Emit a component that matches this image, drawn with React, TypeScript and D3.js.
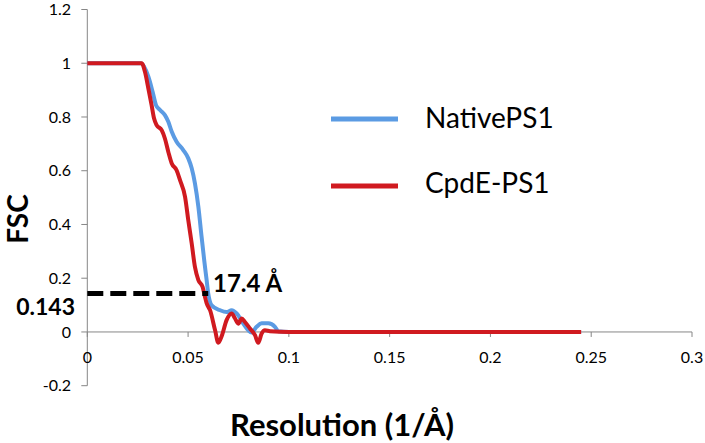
import React from "react";
import * as d3 from "d3";

const nativeRes = [0, 0.01, 0.02, 0.0266, 0.0303, 0.0324, 0.0341, 0.0361, 0.0385, 0.0402, 0.0419, 0.0443, 0.0476, 0.0501, 0.0518, 0.0534, 0.0551, 0.0567, 0.058, 0.0592, 0.06, 0.0617, 0.0658, 0.0691, 0.0716, 0.0741, 0.0774, 0.0799, 0.0815, 0.084, 0.0865, 0.0898, 0.0931, 0.0947, 0.1, 0.15, 0.2, 0.245];
const nativeFsc = [1, 1, 1, 1, 0.95, 0.894, 0.844, 0.826, 0.807, 0.782, 0.745, 0.708, 0.677, 0.646, 0.609, 0.553, 0.466, 0.354, 0.267, 0.193, 0.143, 0.099, 0.081, 0.074, 0.081, 0.069, 0.031, 0.006, -0.002, 0.019, 0.032, 0.032, 0.019, 0.003, 0, 0, 0, 0];

const cpdeRes = [0, 0.01, 0.02, 0.027, 0.0286, 0.0303, 0.0319, 0.0331, 0.0344, 0.0369, 0.0385, 0.0402, 0.0419, 0.0443, 0.046, 0.0485, 0.0501, 0.0518, 0.0534, 0.0551, 0.0572, 0.0584, 0.0592, 0.0609, 0.0634, 0.065, 0.0667, 0.0691, 0.0716, 0.0733, 0.0749, 0.0766, 0.0782, 0.0807, 0.0832, 0.0848, 0.0865, 0.0881, 0.0906, 0.1, 0.15, 0.2, 0.245];
const cpdeFsc = [1, 1, 1, 1, 0.968, 0.906, 0.844, 0.795, 0.77, 0.751, 0.72, 0.67, 0.627, 0.602, 0.565, 0.503, 0.416, 0.329, 0.242, 0.193, 0.168, 0.13, 0.107, 0.081, 0.006, -0.04, -0.015, 0.044, 0.069, 0.05, 0.031, 0.05, 0.037, 0.013, -0.012, -0.04, -0.006, 0.006, 0.003, 0, 0, 0, 0];

const xTicks = [0, 0.05, 0.1, 0.15, 0.2, 0.25, 0.3];
const xTickLabels = ["0", "0.05", "0.1", "0.15", "0.2", "0.25", "0.3"];
const yTicks = [-0.2, 0, 0.2, 0.4, 0.6, 0.8, 1, 1.2];
const yTickLabels = ["-0.2", "0", "0.2", "0.4", "0.6", "0.8", "1", "1.2"];

const seriesNames = ["NativePS1", "CpdE-PS1"];
const seriesColors = ["#5b9be3", "#d01a20"];
const threshold = 0.143;
const thresholdRes = 0.06;
const resolutionLabel = "17.4 Å";

const FONT = "Lato, 'Open Sans', sans-serif";

export default function App() {
  const x = d3.scaleLinear().domain([0, 0.3]).range([87.3, 692]);
  const y = d3.scaleLinear().domain([-0.2, 1.2]).range([385.7, 9.5]);
  const line = d3
    .line<[number, number]>()
    .x((d) => x(d[0]))
    .y((d) => y(d[1]))
    .curve(d3.curveMonotoneX);
  const nativeData = nativeRes.map((r, i) => [r, nativeFsc[i]] as [number, number]);
  const cpdeData = cpdeRes.map((r, i) => [r, cpdeFsc[i]] as [number, number]);
  const axisColor = "#868686";
  const x0 = x(0);
  const yZero = y(0);

  return (
    <svg
      width={705}
      height={443}
      style={{ position: "absolute", left: 0, top: 0, background: "#fff" }}
      fontFamily={FONT}
    >
      <rect width={705} height={443} fill="#fff" />
      {/* Y axis */}
      <line x1={x0} x2={x0} y1={y(1.2)} y2={y(-0.2)} stroke={axisColor} strokeWidth={1} />
      {yTicks.map((t, i) => (
        <g key={"yt" + i}>
          <line x1={x0 - 6} x2={x0} y1={y(t)} y2={y(t)} stroke={axisColor} strokeWidth={1} />
          <text x={71} y={y(t)} dy="0.35em" textAnchor="end" fontSize={16} fill="#000">
            {yTickLabels[i]}
          </text>
        </g>
      ))}
      {/* X axis */}
      <line x1={x0} x2={x(0.3)} y1={yZero} y2={yZero} stroke={axisColor} strokeWidth={1} />
      {xTicks.map((t, i) => (
        <g key={"xt" + i}>
          <line x1={x(t)} x2={x(t)} y1={yZero} y2={yZero + 5} stroke={axisColor} strokeWidth={1} />
          <text x={x(t)} y={363} textAnchor="middle" fontSize={16} fill="#000">
            {xTickLabels[i]}
          </text>
        </g>
      ))}
      {/* curves */}
      <path d={line(nativeData) || ""} fill="none" stroke={seriesColors[0]} strokeWidth={4} strokeLinejoin="round" />
      <path d={line(cpdeData) || ""} fill="none" stroke={seriesColors[1]} strokeWidth={4} strokeLinejoin="round" />
      {/* threshold dashed line */}
      <line
        x1={x(0)}
        x2={x(thresholdRes)}
        y1={y(threshold)}
        y2={y(threshold)}
        stroke="#000"
        strokeWidth={5}
        strokeDasharray="16 7"
      />
      <text x={75} y={315} textAnchor="end" fontSize={23} fontWeight="bold" fill="#000">
        {String(threshold)}
      </text>
      <text x={213} y={292} fontSize={24} fontWeight="bold" fill="#000">
        {resolutionLabel}
      </text>
      {/* legend */}
      {seriesNames.map((n, i) => (
        <g key={"lg" + i}>
          <line x1={331} x2={398} y1={119 + i * 67} y2={119 + i * 67} stroke={seriesColors[i]} strokeWidth={5} />
          <text x={425} y={128 + i * 65} fontSize={28} fill="#000">
            {n}
          </text>
        </g>
      ))}
      {/* axis titles */}
      <text x={342} y={436} textAnchor="middle" fontSize={31} fontWeight="bold" fill="#000">
        Resolution (1/Å)
      </text>
      <text
        transform="translate(28,219) rotate(-90)"
        textAnchor="middle"
        fontSize={28}
        fontWeight="bold"
        fill="#000"
      >
        FSC
      </text>
    </svg>
  );
}
